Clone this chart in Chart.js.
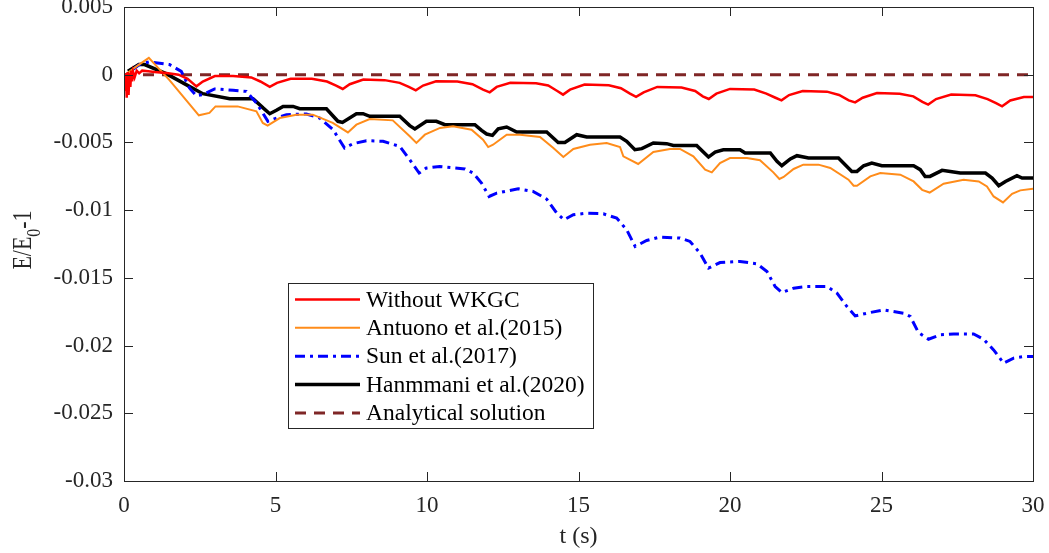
<!DOCTYPE html>
<html lang="en">
<head>
    <meta charset="UTF-8">
    <title>Energy decay</title>
    <script src="https://cdn.jsdelivr.net/npm/chart.js"></script>
    <style>
        body { margin: 0; background: #fff; }
        #wrap { width: 1049px; height: 553px; }
    </style>
</head>
<body>
    <div id="wrap"><canvas id="energy"></canvas></div>

    <script>
        // axis ticks
        const xTicks = [0, 5, 10, 15, 20, 25, 30];
        const yTicks = [-0.03, -0.025, -0.02, -0.015, -0.01, -0.005, 0, 0.005];
        const yTickLabels = ['-0.03', '-0.025', '-0.02', '-0.015', '-0.01', '-0.005', '0', '0.005'];

        // Without WKGC
        const redT = [0, 0.03, 0.06, 0.09, 0.12, 0.15, 0.18, 0.21, 0.24, 0.27, 0.3, 0.35, 0.42, 0.5, 0.6, 0.8, 1.0, 1.4, 1.8, 2.1, 2.39,
            2.6, 3.0, 3.6, 4.2, 4.5, 4.81, 5.05, 5.5, 6.2, 6.7, 7.0, 7.22, 7.45, 7.9, 8.6, 9.1, 9.4, 9.63,
            9.87, 10.3, 11.0, 11.5, 11.85, 12.07, 12.3, 12.75, 13.6, 14.0, 14.3, 14.49, 14.72, 15.2, 16.0, 16.4, 16.7, 16.9,
            17.15, 17.6, 18.4, 18.85, 19.1, 19.3, 19.55, 20.0, 20.8, 21.2, 21.5, 21.7, 21.95, 22.4, 23.2, 23.6, 23.92, 24.13,
            24.38, 24.85, 25.6, 26.05, 26.35, 26.54, 26.8, 27.3, 28.1, 28.5, 28.78, 28.98, 29.25, 29.7, 30];
        const redE = [0, -0.0012, 0.0001, -0.0017, 0.0002, -0.0015, 0.0001, -0.0009, 0.0003, -0.0005, 0.0002, -0.0002, 0.0003, 0.0001, 0.0003, 0.00025, 0.0002, 0.00012, 0.0, -0.0003, -0.00086,
            -0.0005, -0.0001, -0.0001, -0.0002, -0.0005, -0.0009, -0.0006, -0.0003, -0.0003, -0.0005, -0.0008, -0.00105, -0.0007, -0.00036, -0.0004, -0.0006, -0.0009, -0.00115,
            -0.0008, -0.00048, -0.0005, -0.0007, -0.0011, -0.0013, -0.0009, -0.0006, -0.00063, -0.0008, -0.0012, -0.00147, -0.0011, -0.00073, -0.00078, -0.001, -0.0014, -0.00164,
            -0.0013, -0.0009, -0.00095, -0.0012, -0.0016, -0.00179, -0.0014, -0.00105, -0.0011, -0.0014, -0.0017, -0.00189, -0.0015, -0.0012, -0.00125, -0.0015, -0.0019, -0.00204,
            -0.0017, -0.00135, -0.0014, -0.0016, -0.002, -0.00221, -0.0018, -0.00147, -0.00152, -0.0018, -0.0021, -0.00233, -0.0019, -0.00165, -0.00164];

        // Antuono et al.(2015)
        const orangeT = [0.1, 0.4, 0.82, 1.5, 2.47, 2.82, 3.02, 3.75, 4.37, 4.58, 4.74, 5.14, 5.69, 6.23, 6.89, 7.39, 7.67, 8.11, 8.87, 9.43, 9.65,
            9.93, 10.43, 10.86, 11.47, 11.85, 12.02, 12.18, 12.63, 13.07, 13.73, 14.17, 14.5, 14.83, 15.38, 15.93, 16.37, 16.48, 16.97,
            17.47, 18.02, 18.35, 18.79, 19.18, 19.4, 19.67, 20.0, 20.56, 20.99, 21.43, 21.63, 21.77, 22.1, 22.42, 22.92, 23.31, 23.91, 24.08, 24.19,
            24.63, 24.96, 25.62, 26.06, 26.34, 26.59, 27.05, 27.71, 28.21, 28.48, 28.7, 29.01, 29.31, 29.58, 30];
        const orangeE = [0.0001, 0.0006, 0.00124, -0.0004, -0.003, -0.00282, -0.00234, -0.00234, -0.0027, -0.00356, -0.00376, -0.0032, -0.00295, -0.00295, -0.00356, -0.00426, -0.00369, -0.00327, -0.00337, -0.00455, -0.00504,
            -0.00443, -0.00393, -0.00381, -0.00406, -0.0048, -0.00534, -0.00517, -0.00443, -0.00443, -0.0046, -0.00541, -0.00608, -0.00548, -0.00517, -0.00504, -0.00534, -0.00603, -0.00659,
            -0.00571, -0.00548, -0.00548, -0.00603, -0.00701, -0.00721, -0.00652, -0.00615, -0.00615, -0.00632, -0.00721, -0.0077, -0.00755, -0.00696, -0.00664, -0.00664, -0.00689, -0.00775, -0.0082, -0.0082,
            -0.00751, -0.00726, -0.00738, -0.00788, -0.0085, -0.0087, -0.00805, -0.00775, -0.00788, -0.00825, -0.00899, -0.00943, -0.00879, -0.00854, -0.00842];

        // Sun et al.(2017)
        const blueT = [0.29, 0.51, 0.84, 1.5, 1.89, 2.16, 2.39, 2.6, 2.99, 3.6, 4.04, 4.37, 4.75, 5.03, 5.36, 6.02, 6.46, 6.9, 7.28, 7.56, 8.0, 8.55, 9.1, 9.43, 9.74,
            9.98, 10.42, 11.25, 11.52, 11.8, 12.05, 12.3, 13.01, 13.5, 13.95, 14.28, 14.52, 14.83, 15.27, 15.82, 16.26, 16.59, 16.87,
            17.25, 17.69, 18.35, 18.68, 19.01, 19.29, 19.67, 20.33, 20.89, 21.22, 21.49, 21.71, 22.1, 22.54, 23.2, 23.53, 23.86, 24.13,
            24.52, 25.07, 25.73, 25.95, 26.22, 26.55, 26.94, 27.38, 28.04, 28.37, 28.7, 29.03, 29.36, 29.69, 30];
        const blueE = [0.00038, 0.00075, 0.00095, 0.00075, 0.00025, -0.00098, -0.00155, -0.00147, -0.00105, -0.00115, -0.00123, -0.00208, -0.00344, -0.0032, -0.00295, -0.0029, -0.0032, -0.00406, -0.00541, -0.00509, -0.00487, -0.00492, -0.00529, -0.00628, -0.00726,
            -0.00689, -0.00677, -0.00696, -0.00726, -0.008, -0.00899, -0.00874, -0.00842, -0.00862, -0.00918, -0.01022, -0.01071, -0.01034, -0.01022, -0.01027, -0.01059, -0.01145, -0.01268,
            -0.01224, -0.01199, -0.01206, -0.01231, -0.01317, -0.01428, -0.01387, -0.01379, -0.01396, -0.01453, -0.01564, -0.01608, -0.01576, -0.01564, -0.01564, -0.01613, -0.01712, -0.01781,
            -0.01761, -0.01736, -0.01761, -0.01785, -0.01904, -0.01953, -0.01921, -0.01914, -0.01914, -0.01953, -0.02032, -0.0213, -0.02093, -0.02081, -0.02081];

        // Hanmmani et al.(2020)
        const blackT = [0.13, 0.49, 0.68, 1.39, 2.05, 2.6, 3.49, 4.26, 4.59, 4.81, 5.03, 5.25, 5.58, 5.8, 6.68, 7.06, 7.21, 7.67, 7.89, 8.11, 9.1, 9.43, 9.6,
            9.98, 10.31, 10.59, 11.58, 11.8, 11.97, 12.16, 12.35, 12.63, 12.96, 13.95, 14.33, 14.55, 14.94, 15.27, 16.37, 16.59, 16.86,
            17.09, 17.47, 17.91, 18.13, 18.9, 19.12, 19.29, 19.51, 19.78, 20.33, 20.5, 21.33, 21.55, 21.71, 21.99, 22.21, 22.59, 23.58, 23.8, 24.02, 24.19,
            24.41, 24.68, 25.01, 26.06, 26.28, 26.44, 26.6, 27.0, 27.27, 27.6, 28.43, 28.65, 28.87, 29.09, 29.47, 29.64, 30];
        const blackE = [0.00025, 0.00075, 0.00075, 0.00008, -0.00073, -0.0014, -0.00177, -0.00177, -0.00245, -0.00288, -0.00263, -0.00234, -0.00234, -0.00251, -0.00251, -0.00344, -0.00352, -0.00288, -0.00288, -0.00307, -0.00307, -0.00376, -0.004,
            -0.00344, -0.00344, -0.00369, -0.00369, -0.00411, -0.00438, -0.00448, -0.004, -0.00386, -0.00423, -0.00423, -0.005, -0.005, -0.00443, -0.0046, -0.0046, -0.00492, -0.00554,
            -0.00546, -0.00504, -0.00509, -0.00522, -0.00522, -0.00571, -0.00608, -0.00571, -0.00554, -0.00554, -0.00578, -0.00578, -0.0064, -0.00672, -0.00622, -0.00598, -0.00615, -0.00615, -0.00664, -0.00714, -0.00714,
            -0.00672, -0.00652, -0.00672, -0.00672, -0.00701, -0.00751, -0.00751, -0.00706, -0.00714, -0.00726, -0.00726, -0.00763, -0.0082, -0.00788, -0.00746, -0.00763, -0.00763];

        // Analytical solution
        const exactT = [0, 30];
        const exactE = [0, 0];

        const FONT = '"Liberation Serif", "Times New Roman", serif';
        const INK = '#262626';

        function toPoints(ts, es) {
            return ts.map((t, i) => ({ x: t, y: es[i] }));
        }

        const series = [
            { label: 'Without WKGC', t: redT, e: redE, color: '#ff0000', width: 2.5, dash: [] },
            { label: 'Antuono et al.(2015)', t: orangeT, e: orangeE, color: '#ff8c1a', width: 2, dash: [] },
            { label: 'Sun et al.(2017)', t: blueT, e: blueE, color: '#0000ff', width: 3, dash: [10, 5, 3, 5] },
            { label: 'Hanmmani et al.(2020)', t: blackT, e: blackE, color: '#000000', width: 3.5, dash: [] },
            { label: 'Analytical solution', t: exactT, e: exactE, color: '#7f2626', width: 3, dash: [11, 8] }
        ];

        // box, inward tick marks, titles and legend
        const framePlugin = {
            id: 'frame',
            afterDraw(chart) {
                const { ctx, chartArea: a, scales } = chart;
                ctx.save();
                ctx.strokeStyle = INK;
                ctx.lineWidth = 1;
                ctx.strokeRect(a.left + 0.5, a.top + 0.5, a.right - a.left, a.bottom - a.top);
                const len = 9;
                ctx.beginPath();
                xTicks.forEach(v => {
                    const x = Math.round(scales.x.getPixelForValue(v)) + 0.5;
                    ctx.moveTo(x, a.bottom); ctx.lineTo(x, a.bottom - len);
                    ctx.moveTo(x, a.top); ctx.lineTo(x, a.top + len);
                });
                yTicks.forEach(v => {
                    const y = Math.round(scales.y.getPixelForValue(v)) + 0.5;
                    ctx.moveTo(a.left, y); ctx.lineTo(a.left + len, y);
                    ctx.moveTo(a.right, y); ctx.lineTo(a.right - len, y);
                });
                ctx.stroke();

                // axis titles
                ctx.fillStyle = INK;
                ctx.font = '24px ' + FONT;
                ctx.textAlign = 'center';
                ctx.textBaseline = 'alphabetic';
                ctx.fillText('t (s)', (a.left + a.right) / 2, 543);

                // E/E0-1, written upward with a lowered 0
                ctx.save();
                ctx.translate(31, 240);
                ctx.rotate(-Math.PI / 2);
                ctx.scale(0.88, 1.1);
                ctx.textAlign = 'left';
                const p1 = 'E/E', sub = '0', p2 = '-1';
                ctx.font = '25px ' + FONT;
                const w1 = ctx.measureText(p1).width, w3 = ctx.measureText(p2).width;
                ctx.font = '18px ' + FONT;
                const w2 = ctx.measureText(sub).width;
                const x0 = -(w1 + w2 + w3) / 2;
                ctx.font = '25px ' + FONT;
                ctx.fillText(p1, x0, 0);
                ctx.font = '18px ' + FONT;
                ctx.fillText(sub, x0 + w1, 8);
                ctx.font = '25px ' + FONT;
                ctx.fillText(p2, x0 + w1 + w2, 0);
                ctx.restore();

                // legend
                const lx = 288, ly = 283, lw = 305, lh = 145, row = 28.35;
                ctx.fillStyle = '#ffffff';
                ctx.fillRect(lx, ly, lw, lh);
                ctx.strokeStyle = INK;
                ctx.lineWidth = 1;
                ctx.strokeRect(lx + 0.5, ly + 0.5, lw, lh);
                ctx.textAlign = 'left';
                ctx.textBaseline = 'middle';
                ctx.font = '23.5px ' + FONT;
                series.forEach((s, i) => {
                    const y = ly + 16.5 + i * row;
                    ctx.beginPath();
                    ctx.strokeStyle = s.color;
                    ctx.lineWidth = s.width;
                    ctx.setLineDash(s.dash);
                    ctx.moveTo(295, y); ctx.lineTo(360, y);
                    ctx.stroke();
                    ctx.setLineDash([]);
                    ctx.fillStyle = '#000';
                    ctx.fillText(s.label, 366, y + 1);
                });
                ctx.restore();
            }
        };

        new Chart(document.getElementById('energy'), {
            type: 'scatter',
            data: {
                datasets: series.map(s => ({
                    label: s.label,
                    data: toPoints(s.t, s.e),
                    showLine: true,
                    borderColor: s.color,
                    backgroundColor: s.color,
                    borderWidth: s.width,
                    borderDash: s.dash,
                    pointRadius: 0,
                    tension: 0
                }))
            },
            options: {
                responsive: true,
                maintainAspectRatio: false,
                animation: false,
                layout: { padding: { left: 0, right: 16, top: 7, bottom: 0 } },
                plugins: {
                    legend: { display: false },
                    tooltip: { enabled: false }
                },
                scales: {
                    x: {
                        type: 'linear',
                        min: 0,
                        max: 30,
                        afterBuildTicks: scale => { scale.ticks = xTicks.map(v => ({ value: v })); },
                        afterFit: scale => {
                            scale.height = 72;
                            scale.paddingLeft = 0;
                            scale.paddingRight = 0;
                        },
                        grid: { display: false },
                        border: { display: false },
                        ticks: { color: INK, font: { family: FONT, size: 23 }, padding: 3, maxRotation: 0 }
                    },
                    y: {
                        min: -0.03,
                        max: 0.005,
                        afterBuildTicks: scale => { scale.ticks = yTicks.map(v => ({ value: v })); },
                        afterFit: scale => {
                            scale.width = 124;
                            scale.paddingTop = 0;
                            scale.paddingBottom = 0;
                        },
                        grid: { display: false },
                        border: { display: false },
                        ticks: {
                            color: INK,
                            font: { family: FONT, size: 23 },
                            padding: 3,
                            callback: (v, i) => yTickLabels[i]
                        }
                    }
                }
            },
            plugins: [framePlugin]
        });
    </script>
</body>
</html>
